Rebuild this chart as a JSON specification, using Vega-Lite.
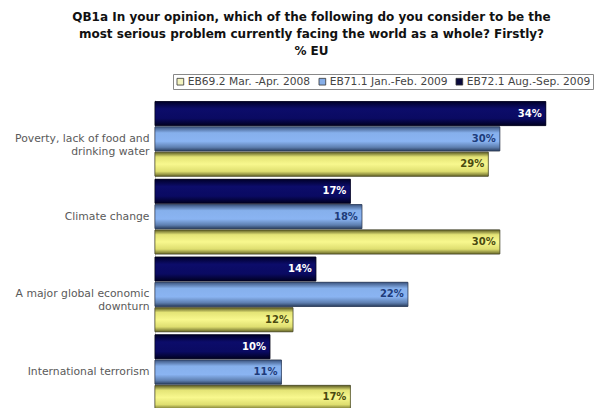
{
  "$schema": "https://vega.github.io/schema/vega-lite/v6.json",
  "width": 439,
  "height": 311,
  "autosize": {"type": "none"},
  "padding": {"left": 155, "top": 100, "right": 0, "bottom": 0},
  "background": "white",
  "config": {"view": {"stroke": null}, "font": "DejaVu Sans"},
  "title": {
    "text": ["QB1a In your opinion, which of the following do you consider to be the", "most serious problem currently facing the world as a whole? Firstly?", "% EU"],
    "font": "DejaVu Sans",
    "fontSize": 12,
    "fontWeight": "bold",
    "color": "#111",
    "anchor": "middle",
    "frame": "group",
    "dx": -63,
    "offset": 16,
    "lineHeight": 17
  },
  "data": {
    "values": [
      {"cat": "Poverty, lack of food and|drinking water", "s": "EB69.2 Mar. -Apr. 2008", "v": 0.29},
      {"cat": "Poverty, lack of food and|drinking water", "s": "EB71.1 Jan.-Feb. 2009", "v": 0.30},
      {"cat": "Poverty, lack of food and|drinking water", "s": "EB72.1 Aug.-Sep. 2009", "v": 0.34},
      {"cat": "Climate change", "s": "EB69.2 Mar. -Apr. 2008", "v": 0.30},
      {"cat": "Climate change", "s": "EB71.1 Jan.-Feb. 2009", "v": 0.18},
      {"cat": "Climate change", "s": "EB72.1 Aug.-Sep. 2009", "v": 0.17},
      {"cat": "A major global economic|downturn", "s": "EB69.2 Mar. -Apr. 2008", "v": 0.12},
      {"cat": "A major global economic|downturn", "s": "EB71.1 Jan.-Feb. 2009", "v": 0.22},
      {"cat": "A major global economic|downturn", "s": "EB72.1 Aug.-Sep. 2009", "v": 0.14},
      {"cat": "International terrorism", "s": "EB69.2 Mar. -Apr. 2008", "v": 0.17},
      {"cat": "International terrorism", "s": "EB71.1 Jan.-Feb. 2009", "v": 0.11},
      {"cat": "International terrorism", "s": "EB72.1 Aug.-Sep. 2009", "v": 0.10}
    ]
  },
  "encoding": {
    "y": {
      "field": "cat",
      "type": "nominal",
      "sort": ["Poverty, lack of food and|drinking water", "Climate change", "A major global economic|downturn", "International terrorism"],
      "scale": {"paddingInner": 0.04, "paddingOuter": 0.02},
      "axis": {
        "title": null,
        "labelExpr": "split(datum.label, '|')",
        "labelFont": "DejaVu Sans",
        "labelFontSize": 10.8,
        "labelColor": "#5a5a5a",
        "labelPadding": 6,
        "labelLimit": 200,
        "labelLineHeight": 13,
        "ticks": false,
        "domain": true,
        "domainColor": "#ccc",
        "domainWidth": 1
      }
    },
    "yOffset": {
      "field": "s",
      "type": "nominal",
      "sort": ["EB72.1 Aug.-Sep. 2009", "EB71.1 Jan.-Feb. 2009", "EB69.2 Mar. -Apr. 2008"],
      "scale": {"paddingInner": 0.05, "paddingOuter": 0}
    },
    "x": {"field": "v", "type": "quantitative", "scale": {"domain": [0, 0.382]}, "axis": null}
  },
  "layer": [
    {
      "mark": {"type": "bar", "stroke": "#2a2a2a", "strokeWidth": 0.6},
      "encoding": {
        "color": {
          "field": "s",
          "type": "nominal",
          "scale": {"domain": ["EB69.2 Mar. -Apr. 2008", "EB71.1 Jan.-Feb. 2009", "EB72.1 Aug.-Sep. 2009"], "range": ["#f4f4c0", "#86aee8", "#0a0a3c"]},
          "legend": {
            "title": null,
            "orient": "none",
            "legendX": 18,
            "legendY": -26,
            "direction": "horizontal",
            "symbolType": "square",
            "symbolSize": 45,
            "symbolStrokeColor": "#333",
            "symbolStrokeWidth": 0.8,
            "labelFont": "DejaVu Sans",
            "labelFontSize": 10.7,
            "labelColor": "#444",
            "columnPadding": 6,
            "labelOffset": 2,
            "strokeColor": "#888",
            "padding": 2,
            "fillColor": "white"
          }
        }
      }
    },
    {
      "transform": [{"filter": "datum.s === 'EB69.2 Mar. -Apr. 2008'"}],
      "layer": [
        {
          "mark": {"type": "bar", "stroke": "#4a4a20", "strokeWidth": 0.6, "color": {"gradient": "linear", "x1": 0, "y1": 0, "x2": 0, "y2": 1, "stops": [{"offset": 0, "color": "#5a5a22"}, {"offset": 0.2, "color": "#e4e476"}, {"offset": 0.5, "color": "#f8f88e"}, {"offset": 0.8, "color": "#dede70"}, {"offset": 1, "color": "#6a6a2a"}]}}
        },
        {
          "mark": {"type": "text", "align": "right", "dx": -4, "font": "DejaVu Sans", "fontSize": 10, "fontWeight": "bold", "color": "#4a4a10"},
          "encoding": {"text": {"field": "v", "type": "quantitative", "format": ".0%"}}
        }
      ]
    },
    {
      "transform": [{"filter": "datum.s === 'EB71.1 Jan.-Feb. 2009'"}],
      "layer": [
        {
          "mark": {"type": "bar", "stroke": "#2a3a5a", "strokeWidth": 0.6, "color": {"gradient": "linear", "x1": 0, "y1": 0, "x2": 0, "y2": 1, "stops": [{"offset": 0, "color": "#3c5580"}, {"offset": 0.25, "color": "#86b0ec"}, {"offset": 0.6, "color": "#8ab4f2"}, {"offset": 0.85, "color": "#5e7fb0"}, {"offset": 1, "color": "#2c4060"}]}}
        },
        {
          "mark": {"type": "text", "align": "right", "dx": -4, "font": "DejaVu Sans", "fontSize": 10, "fontWeight": "bold", "color": "#1e3c7a"},
          "encoding": {"text": {"field": "v", "type": "quantitative", "format": ".0%"}}
        }
      ]
    },
    {
      "transform": [{"filter": "datum.s === 'EB72.1 Aug.-Sep. 2009'"}],
      "layer": [
        {
          "mark": {"type": "bar", "stroke": "#000020", "strokeWidth": 0.6, "color": {"gradient": "linear", "x1": 0, "y1": 0, "x2": 0, "y2": 1, "stops": [{"offset": 0, "color": "#00002a"}, {"offset": 0.3, "color": "#0c0c6a"}, {"offset": 0.7, "color": "#0a0a62"}, {"offset": 1, "color": "#000020"}]}}
        },
        {
          "mark": {"type": "text", "align": "right", "dx": -4, "font": "DejaVu Sans", "fontSize": 10, "fontWeight": "bold", "color": "#ffffff"},
          "encoding": {"text": {"field": "v", "type": "quantitative", "format": ".0%"}}
        }
      ]
    }
  ]
}
